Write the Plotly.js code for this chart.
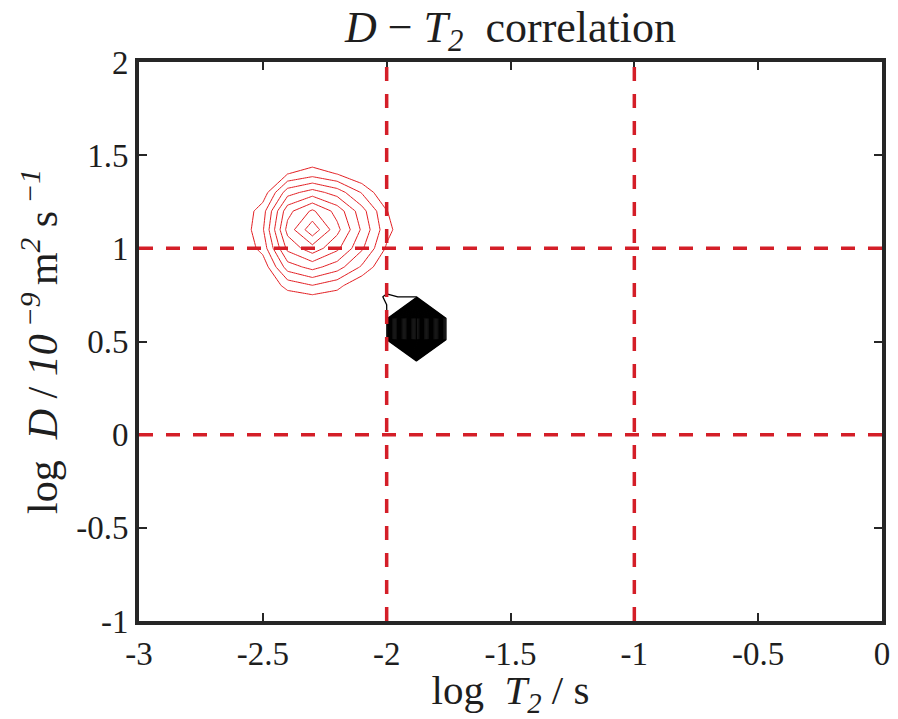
<!DOCTYPE html>
<html>
<head>
<meta charset="utf-8">
<script src="https://cdn.plot.ly/plotly-3.0.1.min.js"></script>
<style>
html,body{margin:0;padding:0;background:#fff;}
#chart{width:898px;height:719px;}
</style>
</head>
<body>
<div id="chart"></div>
<script>
// ---- data ----
// red peak (log T2 grid, log D grid, intensity)
var redX = [-2.7, -2.6, -2.5, -2.4, -2.3, -2.2, -2.1, -2.0, -1.9, -1.8];
var redY = [0.6, 0.7, 0.8, 0.9, 1.0, 1.1, 1.2, 1.3, 1.4, 1.5, 1.6];
var redZ = [
  [0, 0, 0,    0,    0,    0,    0,    0,    0, 0],
  [0, 0, 0,    0,    0,    0,    0,    0,    0, 0],
  [0, 0, 0,    1.35, 1.96, 1.33, 0.07, 0,    0, 0],
  [0, 0, 0.31, 3.50, 4.35, 3.47, 1.85, 0,    0, 0],
  [0, 0, 1.37, 5.28, 6.60, 5.24, 3.16, 0.86, 0, 0],
  [0, 0, 1.88, 6.36, 8.70, 6.31, 3.83, 1.33, 0, 0],
  [0, 0, 1.56, 5.66, 7.18, 5.62, 3.41, 1.04, 0, 0],
  [0, 0, 0.36, 3.58, 4.45, 3.55, 1.91, 0,    0, 0],
  [0, 0, 0,    0.98, 1.56, 0.97, 0,    0,    0, 0],
  [0, 0, 0,    0,    0,    0,    0,    0,    0, 0],
  [0, 0, 0,    0,    0,    0,    0,    0,    0, 0]
];
// black peak
var blackX = [-2.12, -2.0, -1.88, -1.76, -1.64];
var blackY = [0.28, 0.395, 0.51, 0.625, 0.74, 0.855];
var blackZ = [
  [0, 0,   0,   0,   0],
  [0, 0,   1.5, 0,   0],
  [0, 1.5, 100, 1.5, 0],
  [0, 1.5, 100, 1.5, 0],
  [0, 2.3, 1.5, 0,   0],
  [0, 0,   0,   0,   0]
];
// dashed reference lines
var refT2 = [-2, -1];
var refD = [0, 1];
// ticks
var xTickVals = [-3, -2.5, -2, -1.5, -1, -0.5, 0];
var xTickText = ['-3', '-2.5', '-2', '-1.5', '-1', '-0.5', '0'];
var yTickVals = [-1, -0.5, 0, 0.5, 1, 1.5, 2];
var yTickText = ['-1', '-0.5', '0', '0.5', '1', '1.5', '2'];

// ---- chart ----
var FONT = "'Liberation Serif', 'Times New Roman', serif";
var RED = 'rgb(226,30,34)';
var AX = '#262626';
var DASHRED = 'rgb(212,30,40)';
var TXT = '#1e1e1e';

var traces = [
  {
    type: 'contour', x: redX, y: redY, z: redZ,
    showscale: false, hoverinfo: 'skip',
    contours: {start: 1, end: 8, size: 1, coloring: 'lines'},
    colorscale: [[0, RED], [1, RED]],
    line: {width: 1, smoothing: 0}
  },
  {
    type: 'contour', x: blackX, y: blackY, z: blackZ,
    showscale: false, hoverinfo: 'skip',
    contours: {start: 2, end: 98, size: 3, coloring: 'lines'},
    colorscale: [[0, '#000'], [1, '#000']],
    line: {width: 1.3, smoothing: 0}
  }
];

var shapes = [];
refT2.forEach(function (v) {
  shapes.push({type: 'line', xref: 'x', yref: 'paper', x0: v, x1: v, y0: 0, y1: 1,
    layer: 'above', line: {color: DASHRED, width: 3.5, dash: '14px,13px'}});
});
refD.forEach(function (v) {
  shapes.push({type: 'line', xref: 'paper', yref: 'y', x0: 0, x1: 1, y0: v, y1: v,
    layer: 'above', line: {color: DASHRED, width: 3.5, dash: '14px,13px'}});
});

var layout = {
  width: 898, height: 719,
  paper_bgcolor: '#fff', plot_bgcolor: '#fff',
  margin: {l: 138.5, r: 16.3, t: 61.5, b: 97.5},
  showlegend: false,
  font: {family: FONT, size: 33, color: TXT},
  title: {
    text: '<i>D</i> \u2212 <i>T</i><sub><i>2</i></sub>  correlation',
    font: {family: FONT, size: 44, color: TXT},
    x: 0.5, xanchor: 'center', xref: 'paper',
    y: 0.963, yanchor: 'middle', yref: 'container'
  },
  xaxis: {
    range: [-3, 0], tickvals: xTickVals, ticktext: xTickText,
    ticks: 'inside', ticklen: 8, tickwidth: 2, tickcolor: AX,
    showline: true, linewidth: 4, linecolor: AX, mirror: 'ticks',
    showgrid: false, zeroline: false,
    tickfont: {family: FONT, size: 33, color: TXT},
    title: {text: 'log  <i>T</i><sub><i>2</i></sub> / s', font: {family: FONT, size: 41, color: TXT}, standoff: 2}
  },
  yaxis: {
    range: [-1, 2], tickvals: yTickVals, ticktext: yTickText,
    ticks: 'inside', ticklen: 8, tickwidth: 2, tickcolor: AX,
    showline: true, linewidth: 4, linecolor: AX, mirror: 'ticks',
    showgrid: false, zeroline: false,
    tickfont: {family: FONT, size: 33, color: TXT},
    title: {text: 'log  <i>D</i> / <i>10</i><sup> <i>\u22129</i> </sup>m<sup><i>2</i></sup> s<sup> <i>\u22121</i></sup>',
      font: {family: FONT, size: 42, color: TXT}, standoff: 6}
  },
  shapes: shapes
};

Plotly.newPlot('chart', traces, layout, {displayModeBar: false, staticPlot: true});
</script>
</body>
</html>
